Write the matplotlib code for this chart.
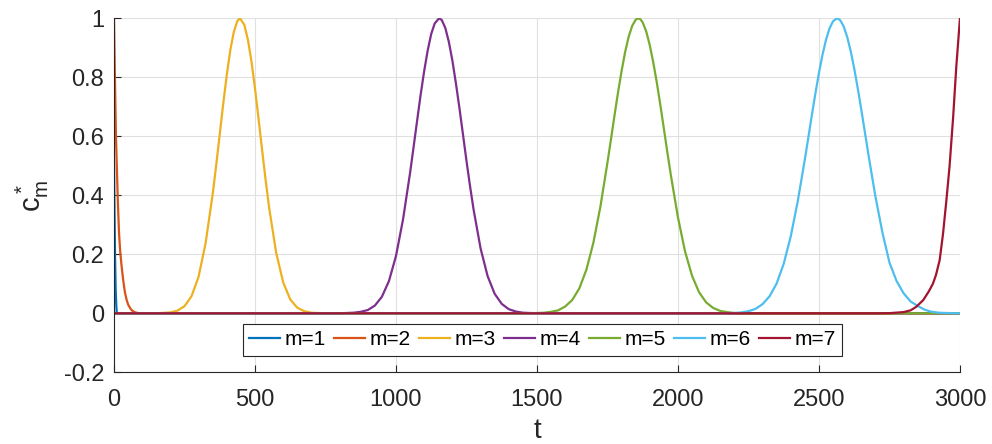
import numpy as np
import matplotlib.pyplot as plt

plt.rcParams['font.family'] = ['Liberation Sans', 'DejaVu Sans']

# values (t, c*)
t1 = [0, 2, 4, 6, 8, 10, 3000]
c1 = [0.52, 0.33, 0.18, 0.08, 0.03, 0.0, 0.0]

t2 = [0, 3, 7, 10, 14, 18, 22, 27, 33, 39, 45, 50, 57, 63, 75, 90, 3000]
c2 = [1.0, 0.82, 0.6, 0.5, 0.37, 0.27, 0.21, 0.16, 0.11, 0.07, 0.045, 0.03, 0.018, 0.01, 0.003, 0.0, 0.0]

t3 = [0, 150, 200, 225, 250, 275, 300, 325, 350, 362.5, 375, 387.5, 400, 412.5, 425, 437.5, 447,
      462.5, 475, 487.5, 500, 512.5, 525, 537.5, 550, 575, 600, 625, 650, 675, 700, 750, 3000]
c3 = [0, 0, 0.003, 0.009, 0.024, 0.058, 0.124, 0.238, 0.404, 0.502, 0.607, 0.711, 0.808, 0.892, 0.954, 0.991, 1.0,
      0.977, 0.927, 0.854, 0.763, 0.661, 0.556, 0.454, 0.359, 0.206, 0.105, 0.047, 0.019, 0.007, 0.002, 0.0, 0.0]

t4 = [0, 800, 850, 875, 900, 925, 950, 975, 1000, 1025, 1050, 1062.5, 1075, 1087.5, 1100, 1112.5, 1125,
      1137.5, 1153, 1162.5, 1175, 1187.5, 1200, 1212.5, 1225, 1237.5, 1250, 1262.5, 1275, 1300, 1325,
      1350, 1375, 1400, 1425, 1450, 1475, 1525, 3000]
c4 = [0, 0, 0.002, 0.005, 0.011, 0.026, 0.056, 0.109, 0.194, 0.318, 0.476, 0.564, 0.653, 0.741, 0.821, 0.891, 0.947,
      0.983, 1.0, 0.994, 0.967, 0.92, 0.857, 0.78, 0.696, 0.607, 0.517, 0.432, 0.353, 0.22, 0.126,
      0.066, 0.032, 0.014, 0.006, 0.002, 0.001, 0.0, 0.0]

t5 = [0, 1475, 1525, 1550, 1575, 1600, 1625, 1650, 1675, 1700, 1725, 1750, 1762.5, 1775, 1787.5, 1800,
      1812.5, 1825, 1837.5, 1850, 1859, 1867.5, 1875, 1887.5, 1900, 1912.5, 1925, 1937.5, 1950, 1962.5,
      1975, 2000, 2025, 2050, 2075, 2100, 2125, 2150, 2175, 2200, 2250, 3000]
c5 = [0, 0, 0.002, 0.005, 0.01, 0.023, 0.045, 0.084, 0.147, 0.239, 0.362, 0.511, 0.59, 0.671, 0.749, 0.821,
      0.885, 0.937, 0.974, 0.995, 1.0, 0.996, 0.986, 0.955, 0.909, 0.85, 0.782, 0.706, 0.626, 0.545,
      0.467, 0.325, 0.21, 0.127, 0.071, 0.037, 0.018, 0.008, 0.004, 0.001, 0.0, 0.0]

t6 = [0, 2150, 2200, 2225, 2250, 2275, 2300, 2325, 2350, 2375, 2400, 2425, 2450, 2462.5, 2475, 2487.5,
      2500, 2512.5, 2525, 2537.5, 2550, 2564, 2575, 2587.5, 2600, 2612.5, 2625, 2637.5, 2650, 2662.5,
      2675, 2700, 2725, 2750, 2775, 2800, 2825, 2850, 2875, 2900, 2925, 2950, 3000]
c6 = [0, 0, 0.001, 0.003, 0.007, 0.015, 0.031, 0.058, 0.101, 0.168, 0.261, 0.381, 0.522, 0.597, 0.673, 0.746,
      0.815, 0.876, 0.927, 0.966, 0.99, 1.0, 0.994, 0.973, 0.937, 0.889, 0.83, 0.763, 0.691, 0.616,
      0.54, 0.397, 0.274, 0.172, 0.11, 0.068, 0.04, 0.025, 0.012, 0.005, 0.002, 0.001, 0.0]

t7 = [0, 2700, 2750, 2800, 2825, 2845, 2870, 2890, 2904, 2915, 2928, 2940, 2952, 2963, 2976, 2987, 3000]
c7 = [0, 0, 0.0005, 0.004, 0.01, 0.022, 0.045, 0.075, 0.1, 0.13, 0.18, 0.27, 0.384, 0.497, 0.667, 0.836, 1.0]

series = [(t1, c1), (t2, c2), (t3, c3), (t4, c4), (t5, c5), (t6, c6), (t7, c7)]
labels = ['m=1', 'm=2', 'm=3', 'm=4', 'm=5', 'm=6', 'm=7']
colors = ['#0072BD', '#D95319', '#EDB120', '#7E2F8E', '#77AC30', '#4DBEEE', '#A2142F']

fig = plt.figure(figsize=(9.92, 4.44), dpi=100)
ax = fig.add_axes([0.1149, 0.1615, 0.8528, 0.7973])

for (t, c), lab, col in zip(series, labels, colors):
    ax.plot(t, c, color=col, lw=1.6, label=lab)

ax.set_xlim(0, 3000)
ax.set_ylim(-0.2, 1)
ax.set_xticks(np.arange(0, 3001, 500))
ax.set_yticks([-0.2, 0, 0.2, 0.4, 0.6, 0.8, 1])
ax.set_yticklabels(['-0.2', '0', '0.2', '0.4', '0.6', '0.8', '1'])
ax.grid(True, color='#e0e0e0', lw=0.8)
ax.set_axisbelow(True)

for s in ['top', 'right']:
    ax.spines[s].set_visible(False)
for s in ['left', 'bottom']:
    ax.spines[s].set_color('#262626')
    ax.spines[s].set_linewidth(0.8)
ax.tick_params(direction='in', length=5, width=0.8, color='#262626',
               labelsize=17, labelcolor='#262626')
ax.tick_params(axis='x', pad=12)
ax.tick_params(axis='y', pad=7)

ax.set_xlabel('t', fontsize=20, color='#262626', labelpad=5)
ax.set_ylabel(r'$\mathregular{c_m^*}$', fontsize=21, color='#262626', labelpad=9)

leg = ax.legend(ncol=7, loc='lower center', bbox_to_anchor=(0.506, 0.047),
                fontsize=15, frameon=True, fancybox=False, framealpha=1,
                handlelength=1.5, handletextpad=0.2, columnspacing=0.4,
                borderpad=0.3, borderaxespad=0)
leg.get_frame().set_edgecolor('#262626')
leg.get_frame().set_linewidth(0.8)

fig.savefig('out.png', dpi=100)
